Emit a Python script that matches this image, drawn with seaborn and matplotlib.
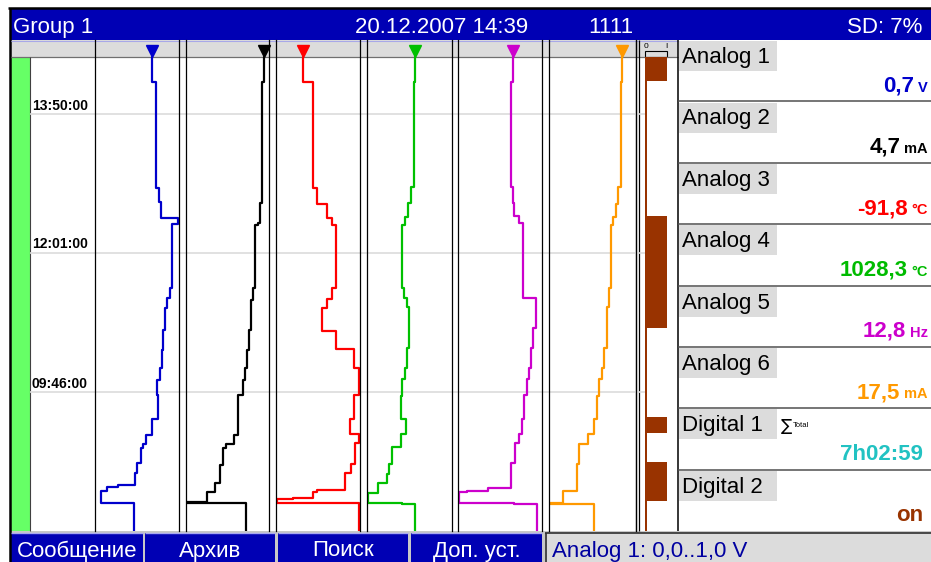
import matplotlib
matplotlib.use("Agg")
import matplotlib.pyplot as plt
from matplotlib.patches import Rectangle
import numpy as np
import seaborn as sns

sns.set_theme(style="white")
plt.rcParams['font.family'] = ['Liberation Sans', 'DejaVu Sans']

# ---------------------------------------------------------------- data
# Scan position on the recorder screen: 0 = newest row (top), 474 = oldest (bottom).
# Trace values are in percent of each channel's display span.
t_a1 = [0, 24.7, 131.3, 144.7, 161.3, 167.0, 231.3, 241.3, 251.3, 273.0, 293.0, 311.3, 323.0,
        338.0, 362.3, 378.0, 387.3, 391.3, 406.3, 415.7, 427.8, 430.0, 434.0, 445.7, 474.0]
pct_a1 = [67.5, 72.6, 76.2, 78.2, 98.5, 92.0, 89.6, 85.4, 83.3, 81.3, 79.4, 77.4, 73.5,
          74.6, 68.2, 60.7, 56.8, 55.1, 50.4, 47.2, 27.7, 13.9, 6.8, 46.8, 46.8]

t_a2 = [0, 24.7, 146.3, 166.3, 168.0, 231.3, 243.0, 273.0, 293.0, 311.3, 323.0, 338.0, 378.0,
        387.3, 391.3, 408.0, 425.7, 435.3, 444.7, 446.0, 474.0]
pct_a2 = [94.3, 91.2, 89.2, 86.4, 83.5, 81.1, 78.3, 76.3, 73.9, 71.1, 68.3, 63.0, 58.2,
          48.2, 44.9, 41.0, 34.9, 24.9, 0.0, 72.7, 72.7]

t_a3 = [0, 24.7, 131.3, 147.3, 160.7, 168.0, 231.3, 242.3, 251.3, 273.7, 292.0, 310.7, 338.0,
        362.3, 377.3, 386.3, 407.0, 416.3, 433.0, 435.3, 440.7, 442.3, 446.3, 474.0]
pct_a3 = [32.5, 44.4, 48.4, 60.3, 66.3, 71.1, 66.3, 60.3, 55.1, 71.1, 92.9, 99.2, 92.9,
          88.1, 99.2, 94.0, 89.3, 82.1, 49.2, 43.7, 20.6, 0.8, 99.2, 99.2]

t_a4 = [0, 24.7, 129.7, 146.3, 159.7, 168.0, 231.3, 241.3, 249.7, 291.3, 311.3, 322.3, 339.0,
        362.3, 377.3, 390.3, 407.0, 417.0, 426.3, 435.7, 445.7, 446.7, 474.0]
pct_a4 = [56.5, 55.3, 51.8, 47.9, 44.7, 41.5, 43.9, 47.4, 49.8, 47.4, 44.7, 40.8, 39.6,
          45.9, 39.6, 29.8, 25.9, 23.2, 12.6, 1.5, 40.8, 56.5, 56.5]

t_a5 = [0, 24.7, 129.7, 146.3, 159.0, 166.3, 241.3, 271.3, 291.3, 310.7, 322.3, 338.0, 362.3,
        377.3, 386.3, 406.3, 431.3, 433.7, 435.3, 445.7, 446.7, 474.0]
pct_a5 = [65.1, 63.1, 65.8, 67.0, 73.0, 77.7, 92.5, 88.9, 86.9, 84.5, 81.8, 78.9, 75.8,
          73.0, 67.9, 63.1, 36.1, 10.4, 1.2, 67.0, 93.7, 93.7]

t_a6 = [0, 24.7, 129.7, 147.3, 159.7, 168.0, 231.3, 249.7, 291.3, 311.3, 322.3, 339.0, 362.3,
        377.3, 387.0, 407.0, 433.7, 445.7, 446.7, 474.0]
pct_a6 = [84.3, 82.8, 79.7, 76.7, 73.2, 70.9, 69.0, 66.3, 63.6, 60.6, 57.8, 54.8, 51.7,
          45.2, 34.8, 31.8, 16.4, 0.0, 51.7, 51.7]

# Digital 2 state over the same scan positions (1 = on)
t_dig = [0, 23.7, 158.7, 270.7, 360.0, 376.3, 404.7, 443.7, 474.0]
state_dig = [1, 0, 1, 0, 1, 0, 1, 0, 0]

time_labels = ['13:50:00', '12:01:00', '09:46:00']
time_label_pos = [57, 196, 335]

channel_names = ['Analog 1', 'Analog 2', 'Analog 3', 'Analog 4', 'Analog 5', 'Analog 6',
                 'Digital 1', 'Digital 2']
reading_values = [0.7, 4.7, -91.8, 1028.3, 12.8, 17.5]
reading_units = ['V', 'mA', '°C', '°C', 'Hz', 'mA']
totalizer_text = '7h02:59'
digital2_text = 'on'

header_group = 'Group 1'
header_datetime = '20.12.2007 14:39'
header_id = '1111'
header_sd = 'SD: 7%'
soft_keys = ['Сообщение', 'Архив', 'Поиск', 'Доп. уст.']
status_text = 'Analog 1: 0,0..1,0 V'

# ---------------------------------------------------------------- styling / layout
W, H = 931, 562
BLUE_BG = '#0000b4'
PANEL_GRAY = '#dcdcdc'
trace_colors = ['#0000cc', '#000000', '#ff0000', '#00c000', '#cc00cc', '#ff9900']
value_colors = ['#0000cc', '#000000', '#ff0000', '#00bb00', '#cc00cc', '#ff9900']
total_color = '#22c2c2'
brown = '#993300'
col_edges = [(95, 179), (186, 269), (276, 360), (367, 452), (458, 542), (549, 636)]
key_spans = [(11, 143), (145, 275), (278, 408), (411, 542)]

fig = plt.figure(figsize=(W / 100, H / 100), dpi=100)
fig.patch.set_facecolor('white')


def px_axes(x0, y0, x1, y1, **kw):
    return fig.add_axes([x0 / W, 1 - y1 / H, (x1 - x0) / W, (y1 - y0) / H], **kw)


base = px_axes(0, 0, W, H)
base.set_xlim(0, W)
base.set_ylim(H, 0)
base.axis('off')


def rect(x, y, w, h, c):
    base.add_patch(Rectangle((x, y), w, h, facecolor=c, edgecolor='none', lw=0))


def hline(y, x0, x1, c, lw):
    base.plot([x0, x1], [y, y], color=c, lw=lw, solid_capstyle='butt')


def vline(x, y0, y1, c, lw):
    base.plot([x, x], [y0, y1], color=c, lw=lw, solid_capstyle='butt')


# outer frame and title bar
rect(11, 9, W - 11, 31, BLUE_BG)
hline(8, 8, W, 'black', 1.8)
vline(9.6, 8, H, 'black', 1.8)
base.text(13, 33, header_group, color='white', fontsize=16, va='baseline', ha='left')
base.text(355, 33, header_datetime, color='white', fontsize=16, va='baseline', ha='left')
base.text(588, 33, header_id, color='white', fontsize=16, va='baseline', ha='left')
base.text(922, 33, header_sd, color='white', fontsize=16, va='baseline', ha='right')

# marker strip and chart background
rect(11, 40, 667, 17, PANEL_GRAY)
hline(40.5, 11, 678, '#a8a8e8', 0.8)
hline(57, 11, 678, '#707070', 0.9)
rect(11, 57, 19, 474, '#66ff66')
vline(30, 57, 531, '#404040', 0.8)

# digital column frame and strip symbols
vline(636.3, 40, 531, 'black', 0.9)
vline(638.5, 40, 531, 'black', 0.9)
vline(678, 40, 531, 'black', 1.1)
base.text(645.5, 47.8, '0', fontsize=6, ha='center', va='baseline', color='black')
base.text(666.5, 47.8, 'I', fontsize=6, ha='center', va='baseline', color='black')
base.add_patch(Rectangle((644.5, 50.5), 22.5, 6.5, facecolor='none', edgecolor='black', lw=0.8))

# time grid and time stamps
ax_time = px_axes(30, 40, 645, 531, facecolor='none')
ax_time.set_ylim(474, -17)
ax_time.set_xlim(0, 1)
ax_time.set_yticks(time_label_pos)
ax_time.set_xticks([])
ax_time.grid(True, axis='y', color='#dcdcdc', lw=1.2)
ax_time.tick_params(length=0, labelleft=False, labelbottom=False)
for s in ax_time.spines.values():
    s.set_visible(False)
ytr = ax_time.get_yaxis_transform()
for lab, pos in zip(time_labels, time_label_pos):
    ax_time.text(0.003, pos - 4.5, lab, transform=ytr, fontsize=10, fontweight='bold',
                 va='baseline', ha='left', color='black')

# analog trace columns
series = [(t_a1, pct_a1), (t_a2, pct_a2), (t_a3, pct_a3),
          (t_a4, pct_a4), (t_a5, pct_a5), (t_a6, pct_a6)]
for (t, v), (x0, x1), col in zip(series, col_edges, trace_colors):
    ax = px_axes(x0, 40, x1, 531, facecolor='none')
    sns.lineplot(x=v, y=t, sort=False, estimator=None, drawstyle='steps-pre',
                 color=col, lw=1.6, ax=ax)
    ax.plot([v[0]], [-6.5], marker='v', ms=8, color=col, mec=col, clip_on=False, ls='none')
    ax.set_xlim(0, 100)
    ax.set_ylim(474, -17)
    ax.set_xticks([])
    ax.set_yticks([])
    ax.set_xlabel('')
    ax.set_ylabel('')
    ax.spines['top'].set_visible(False)
    ax.spines['bottom'].set_visible(False)
    for side in ('left', 'right'):
        ax.spines[side].set_visible(True)
        ax.spines[side].set_color('black')
        ax.spines[side].set_linewidth(0.9)

# digital state bar
ax_dig = px_axes(645, 57, 667, 531, facecolor='none')
ax_dig.set_ylim(474, 0)
ax_dig.set_xlim(0, 1)
bar_right = np.where(np.array(state_dig) == 1, 1.0, 0.09)
ax_dig.fill_betweenx(t_dig, 0, bar_right, step='post', color=brown, lw=0)
ax_dig.axis('off')

# right-hand value panel
row_h = (531 - 40) / 8
renderer = fig.canvas.get_renderer()
for k, name in enumerate(channel_names):
    top = 40 + k * row_h
    rect(679, top + 1.2, 98, 30, PANEL_GRAY)
    base.text(682, top + 23, name, fontsize=16, va='baseline', ha='left', color='black')
    if k > 0:
        hline(top, 678, W, '#505050', 1.1)

for k, (val, unit) in enumerate(zip(reading_values, reading_units)):
    top = 40 + k * row_h
    c = value_colors[k]
    ut = base.text(928, top + 51.5, unit, fontsize=10.5, fontweight='bold', color=c,
                   ha='right', va='baseline')
    uw = ut.get_window_extent(renderer).width
    base.text(928 - uw - 4, top + 51.5, f"{val:.1f}".replace('.', ','), fontsize=16,
              fontweight='bold', color=c, ha='right', va='baseline')

top_d1 = 40 + 6 * row_h
base.text(780.5, top_d1 + 23, '∑', fontsize=12, ha='left', va='baseline', color='black',
          family=['DejaVu Sans'])
base.text(793, top_d1 + 18.5, 'Total', fontsize=5.5, ha='left', va='baseline', color='black')
base.text(923, top_d1 + 51.5, totalizer_text, fontsize=16, fontweight='bold',
          color=total_color, ha='right', va='baseline')
top_d2 = 40 + 7 * row_h
base.text(923, top_d2 + 51.5, digital2_text, fontsize=16, fontweight='bold',
          color=brown, ha='right', va='baseline')

# soft keys and status line
rect(11, 531, W - 11, H - 531, '#c8c8c8')
for label, (x0, x1) in zip(soft_keys, key_spans):
    rect(x0, 533, x1 - x0, H - 533, BLUE_BG)
    hline(532.6, x0, x1, '#a8a8f0', 1.0)
    base.text((x0 + x1) / 2, 556.5, label, color='white', fontsize=16,
              ha='center', va='baseline')
rect(545, 533, W - 545, H - 533, PANEL_GRAY)
hline(533.3, 545, W, '#303030', 1.2)
vline(545.6, 533, H, '#303030', 1.2)
base.text(552, 556.5, status_text, color='#0000a0', fontsize=16, ha='left', va='baseline')

fig.savefig('out.png', dpi=100)
